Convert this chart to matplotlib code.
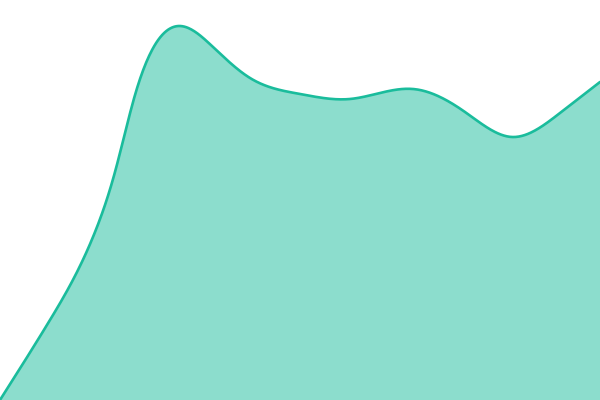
import numpy as np
import matplotlib
matplotlib.use('Agg')
import matplotlib.pyplot as plt

# Data (x position, value); axis spans 0..600 by 0..400
x_vals = [0, 50, 93, 115, 135, 180, 213, 250, 300, 350, 413, 465, 512, 560, 600]
y_vals = [0, 80, 163, 228, 305, 374, 353, 322, 306, 301, 311, 288, 263, 287, 318]

line_color = '#1abc9c'


def natural_spline(xs, ys, num=600):
    # natural cubic spline, evaluated densely only for drawing the smooth line
    xs = np.asarray(xs, float)
    ys = np.asarray(ys, float)
    n = len(xs)
    h = np.diff(xs)
    A = np.zeros((n, n))
    b = np.zeros(n)
    A[0, 0] = A[-1, -1] = 1
    for i in range(1, n - 1):
        A[i, i - 1] = h[i - 1]
        A[i, i] = 2 * (h[i - 1] + h[i])
        A[i, i + 1] = h[i]
        b[i] = 6 * ((ys[i + 1] - ys[i]) / h[i] - (ys[i] - ys[i - 1]) / h[i - 1])
    m = np.linalg.solve(A, b)
    xx = np.linspace(xs[0], xs[-1], num)
    idx = np.clip(np.searchsorted(xs, xx) - 1, 0, n - 2)
    x0, x1 = xs[idx], xs[idx + 1]
    y0, y1 = ys[idx], ys[idx + 1]
    m0, m1 = m[idx], m[idx + 1]
    hh = x1 - x0
    t0 = x1 - xx
    t1 = xx - x0
    yy = (m0 * t0 ** 3 + m1 * t1 ** 3) / (6 * hh) \
        + (y0 / hh - m0 * hh / 6) * t0 + (y1 / hh - m1 * hh / 6) * t1
    return xx, yy


fig = plt.figure(figsize=(6, 4), dpi=100)
ax = fig.add_axes([0, 0, 1, 1])
ax.set_xlim(0, 600)
ax.set_ylim(0, 400)
ax.axis('off')

xx, yy = natural_spline(x_vals, y_vals)
ax.fill_between(xx, 0, yy, color=line_color, alpha=0.5, linewidth=0)
ax.plot(xx, yy, color=line_color, linewidth=1.9, solid_capstyle='round')

fig.savefig('out.png', dpi=100)
